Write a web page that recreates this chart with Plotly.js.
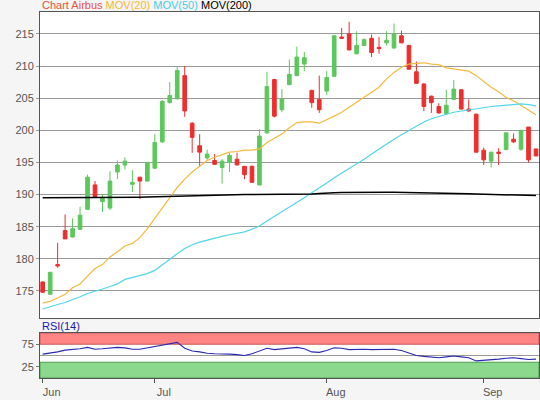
<!DOCTYPE html>
<html>
<head>
<meta charset="utf-8">
<script src="https://cdn.plot.ly/plotly-3.0.1.min.js"></script>
<style>
  html, body { margin: 0; padding: 0; background: #f5f5f5; }
  #myDiv { width: 540px; height: 400px; }
</style>
</head>
<body>
<div id="myDiv"></div>
<script>
// trading days shown on the chart
var days = [
  '2025-06-10','2025-06-11','2025-06-12','2025-06-13','2025-06-16','2025-06-17','2025-06-18','2025-06-19','2025-06-20',
  '2025-06-23','2025-06-24','2025-06-25','2025-06-26','2025-06-27','2025-06-30',
  '2025-07-01','2025-07-02','2025-07-03','2025-07-04','2025-07-07','2025-07-08','2025-07-09','2025-07-10','2025-07-11',
  '2025-07-14','2025-07-15','2025-07-16','2025-07-17','2025-07-18','2025-07-21','2025-07-22','2025-07-23','2025-07-24',
  '2025-07-25','2025-07-28','2025-07-29','2025-07-30','2025-07-31',
  '2025-08-01','2025-08-04','2025-08-05','2025-08-06','2025-08-07','2025-08-08','2025-08-11','2025-08-12','2025-08-13',
  '2025-08-14','2025-08-15','2025-08-18','2025-08-19','2025-08-20','2025-08-21','2025-08-22','2025-08-25','2025-08-26',
  '2025-08-27','2025-08-28','2025-08-29',
  '2025-09-01','2025-09-02','2025-09-03','2025-09-04','2025-09-05','2025-09-08','2025-09-09','2025-09-10'
];

var opens = [176.4,174.5,179.1,184.4,183.4,184.6,187.7,191.5,188.9,187.9,
  193.5,194.6,191.6,192.7,192.1,194.1,198.2,204.3,204.9,208.5,
  201.1,197.6,195.7,195.3,194.2,195.0,195.5,194.4,194.4,191.5,
  199.6,207.9,203.2,207.1,208.5,210.3,206.2,204.8,206.1,208.4,
  214.5,215.0,211.9,213.2,214.3,212.9,213.6,212.8,214.7,213.2,
  209.1,207.2,205.3,203.7,202.6,204.8,206.3,203.3,202.5,196.9,
  195.2,196.6,197.0,198.6,197.05,200.5,197.1];
var highs = [176.5,177.9,182.5,186.9,186.3,188.1,193.1,192.1,190.0,193.6,
  195.3,195.8,193.8,192.7,195.1,199.4,204.7,207.5,210.0,210.0,
  201.3,199.4,197.0,196.3,195.5,196.5,196.5,194.4,194.5,200.2,
  209.1,208.0,206.4,211.0,213.0,212.2,206.3,208.5,209.2,214.8,
  215.9,216.9,215.4,214.3,214.9,214.5,215.4,216.6,215.5,213.3,
  210.7,207.3,205.4,204.2,206.3,207.8,206.4,204.8,202.6,197.3,
  196.6,197.2,199.6,199.5,200.0,200.5,197.1];
var lows = [174.7,174.4,178.6,183.1,183.3,184.5,187.6,189.6,187.3,187.6,
  192.4,193.9,190.4,189.3,192.0,194.0,198.0,204.2,204.8,202.1,
  196.5,194.4,195.4,194.6,191.7,193.5,194.6,192.4,191.9,191.4,
  199.5,202.0,202.8,207.0,208.4,209.2,203.5,202.7,205.5,208.3,
  214.2,212.5,211.8,213.1,211.4,211.9,213.2,212.7,213.6,209.5,
  207.3,203.0,202.7,202.6,202.5,204.7,203.2,202.9,196.5,194.6,
  194.2,194.6,196.9,198.0,196.8,195.0,196.0];
var closes = [174.8,177.9,178.9,183.1,184.7,186.8,192.7,189.7,189.4,192.1,
  194.6,195.2,191.9,192.1,195.0,198.1,204.5,205.4,209.3,203.0,
  198.9,196.6,196.3,194.7,195.2,196.1,194.6,193.1,191.9,199.1,
  206.8,202.2,204.9,208.7,211.4,211.3,204.3,203.2,208.2,214.7,
  214.3,212.5,213.2,214.1,212.1,212.7,214.0,215.0,213.6,209.5,
  207.3,203.7,204.3,202.7,203.9,206.4,203.3,203.0,196.6,195.4,
  196.6,196.4,199.6,198.2,200.0,195.4,196.0];

var mov20 = [173.1,173.4,173.9,174.5,175.5,176.1,177.3,178.5,179.1,180.3,
  181.1,182.0,182.4,183.3,184.7,186.3,187.9,189.4,191.1,192.4,
  193.5,194.4,195.3,195.8,196.2,196.6,196.7,196.9,196.9,197.1,
  198.1,198.7,199.4,200.4,201.2,201.3,201.3,201.1,201.6,202.2,
  202.8,203.6,204.4,205.1,206.0,206.7,208.0,209.0,209.8,210.3,
  210.4,210.5,210.3,210.2,209.7,209.5,209.4,209.2,208.5,207.6,
  206.7,206.0,205.1,204.6,203.9,203.2,202.4];
var mov50 = [172.2,172.6,172.9,173.2,173.6,174.1,174.6,174.9,175.3,175.7,
  176.1,176.8,177.1,177.4,177.7,178.2,179.1,180.0,180.8,181.6,
  182.2,182.6,182.9,183.3,183.5,183.75,183.95,184.2,184.6,185.1,
  185.9,186.6,187.3,188.1,188.8,189.5,190.3,191.0,191.8,192.6,
  193.3,194.1,194.8,195.5,196.3,197.1,197.8,198.6,199.3,200.0,
  200.6,201.3,201.8,202.2,202.5,202.8,203.0,203.1,203.4,203.6,
  203.7,203.8,203.9,204.0,204.1,204.0,203.8];
var mov200 = [189.5,189.5,189.5,189.5,189.5,189.52,189.55,189.55,189.55,189.56,
  189.57,189.6,189.6,189.6,189.62,189.65,189.7,189.75,189.8,189.85,
  189.9,189.9,189.92,189.95,189.95,189.97,190.0,190.0,190.0,190.0,
  190.0,190.0,190.02,190.05,190.05,190.05,190.1,190.15,190.25,190.3,
  190.32,190.34,190.35,190.35,190.35,190.35,190.35,190.34,190.33,190.32,
  190.3,190.3,190.28,190.25,190.22,190.2,190.17,190.12,190.08,190.05,
  190.0,189.98,189.95,189.9,189.88,189.86,189.85];
var rsi = [53,55,58,62,63,65,68,64,65,66,
  68,67,64,64,67,70,73,76,79,66,
  60,58,55,54,54,53,52,50,54,60,
  66,63,65,67,68,65,58,57,61,67,
  66,63,64,64,63,63,63,64,61,55,
  50,48,47,45,47,49,47,45,38,39,
  40,42,44,45,43,41,42];

var monthTicks = ['2025-06-10','2025-07-01','2025-08-01','2025-09-01'];
var monthLabels = ['Jun','Jul','Aug','Sep'];
var priceTicks = [175,180,185,190,195,200,205,210,215];
var rsiTicks = [25,75];

var fnt = 'Liberation Sans, Arial, sans-serif';

var candles = {
  type: 'candlestick',
  x: days, open: opens, high: highs, low: lows, close: closes,
  increasing: {line: {color: '#5cc85c', width: 1}, fillcolor: '#5cc85c'},
  decreasing: {line: {color: '#ee2e2e', width: 1}, fillcolor: '#ee2e2e'},
  xaxis: 'x', yaxis: 'y',
  hoverinfo: 'skip'
};
var ma20 = {type: 'scatter', mode: 'lines', x: days, y: mov20,
  line: {color: '#f5b93c', width: 1.2}, xaxis: 'x', yaxis: 'y'};
var ma50 = {type: 'scatter', mode: 'lines', x: days, y: mov50,
  line: {color: '#4fd6ea', width: 1.2}, xaxis: 'x', yaxis: 'y'};
var ma200 = {type: 'scatter', mode: 'lines', x: days, y: mov200,
  line: {color: '#000000', width: 1.5}, xaxis: 'x', yaxis: 'y'};
var rsiLine = {type: 'scatter', mode: 'lines', x: days, y: rsi,
  line: {color: '#2a2ab0', width: 1.1}, xaxis: 'x2', yaxis: 'y2'};

var layout = {
  width: 540,
  height: 400,
  margin: {l: 40, r: 1, t: 12, b: 22, pad: 0},
  paper_bgcolor: '#f5f5f5',
  plot_bgcolor: '#ffffff',
  showlegend: false,
  font: {family: fnt, size: 11, color: '#555'},
  xaxis: {
    type: 'category', range: [-0.36, 66.4], domain: [0, 1], anchor: 'y',
    showticklabels: false, ticks: '', showgrid: false,
    showline: true, mirror: true, linecolor: '#555', linewidth: 1,
    rangeslider: {visible: false}
  },
  yaxis: {
    range: [170.8, 218.4], domain: [0.164, 1], anchor: 'x',
    tickvals: priceTicks, ticks: 'outside', ticklen: 3, tickcolor: '#999',
    gridcolor: '#9a9a9a', gridwidth: 1, zeroline: false,
    showline: true, mirror: true, linecolor: '#555', linewidth: 1,
    tickfont: {family: fnt, size: 11, color: '#555'}
  },
  xaxis2: {
    type: 'category', range: [-0.36, 66.4], domain: [0, 1], anchor: 'y2',
    tickvals: monthTicks, ticktext: monthLabels,
    ticks: 'outside', ticklen: 4, tickcolor: '#555', ticklabelshift: 9,
    showgrid: false, showline: true, mirror: true, linecolor: '#555', linewidth: 1,
    tickfont: {family: fnt, size: 11, color: '#555'}
  },
  yaxis2: {
    range: [0, 100], domain: [0, 0.123], anchor: 'x2',
    tickvals: rsiTicks, ticks: 'outside', ticklen: 3, tickcolor: '#777',
    showgrid: false, zeroline: false,
    showline: true, mirror: true, linecolor: '#555', linewidth: 1,
    tickfont: {family: fnt, size: 11, color: '#555'}
  },
  shapes: [
    {type: 'rect', xref: 'x2 domain', yref: 'y2', x0: 0, x1: 1, y0: 75, y1: 100,
      fillcolor: '#ff8484', line: {color: '#c85a5a', width: 1}, layer: 'below'},
    {type: 'rect', xref: 'x2 domain', yref: 'y2', x0: 0, x1: 1, y0: 0, y1: 35,
      fillcolor: '#8cd88c', line: {color: '#4f9f4f', width: 1}, layer: 'below'},
    {type: 'line', xref: 'x2 domain', yref: 'y2', x0: 0, x1: 1, y0: 50, y1: 50,
      line: {color: '#999', width: 1}, layer: 'below'}
  ],
  annotations: [
    {xref: 'paper', yref: 'paper', x: 0, y: 1, xanchor: 'left', yanchor: 'bottom',
      xshift: 0, yshift: -1, showarrow: false,
      font: {family: fnt, size: 11},
      text: '<span style="color:#e5533d">Chart Airbus</span> ' +
            '<span style="color:#f5b731">MOV(20)</span> ' +
            '<span style="color:#3fd0e8">MOV(50)</span> ' +
            '<span style="color:#000000">MOV(200)</span>'},
    {xref: 'paper', yref: 'paper', x: 0, y: 0.123, xanchor: 'left', yanchor: 'bottom',
      yshift: -1, showarrow: false,
      font: {family: fnt, size: 11, color: '#1a1aa8'}, text: 'RSI(14)'}
  ]
};

Plotly.newPlot('myDiv', [candles, ma20, ma50, ma200, rsiLine], layout,
  {displayModeBar: false, staticPlot: true});
</script>
</body>
</html>
